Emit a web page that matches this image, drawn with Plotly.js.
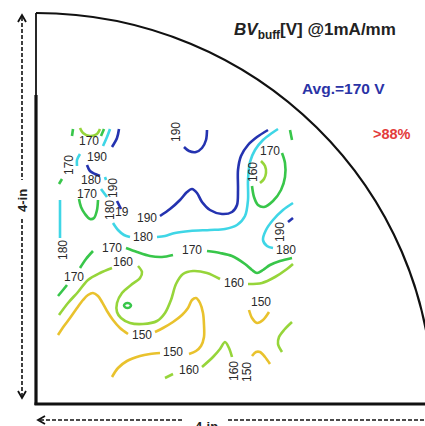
<!DOCTYPE html>
<html>
<head>
<meta charset="utf-8">
<script src="https://cdn.plot.ly/plotly-3.0.1.min.js"></script>
<style>html,body{margin:0;padding:0;background:#fff;}#chart{width:425px;height:426px;}</style>
</head>
<body>
<div id="chart"></div>
<script>
// Wafer quarter coordinates (in), origin at wafer-edge corner
const waferRadiusX = 3.97;
const waferRadiusY = 3.91;

const contourLevel = [190,190,190,190,190,190,
                      180,180,180,180,180,180,180,180,
                      170,170,170,170,170,170,170,170,
                      160,160,160,160,160,
                      150,150,150];
const contourX = [
  [0.83,0.81,0.76],
  [0.51,0.54,0.59,0.64],
  [0.81,0.83,0.85],
  [1.24,1.34,1.44,1.51,1.56,1.61,1.66,1.74,1.86,1.96,2.01,2.02,2.02,2.05,2.12,2.21,2.32],
  [1.71,1.70,1.66,1.60,1.53,1.48],
  [2.52,2.57],
  [0.74,0.71,0.67],
  [0.44,0.41,0.41],
  [0.69,0.70],
  [0.65,0.68,0.71],
  [0.77,0.82,0.88,0.94],
  [1.21,1.29,1.39,1.54,1.74,1.89,2.01,2.09,2.12,2.12,2.14,2.19,2.27,2.36,2.42],
  [2.57,2.47,2.37,2.30,2.27,2.31,2.37],
  [0.24,0.24,0.24],
  [0.37,0.36],
  [0.68,0.65],
  [0.26,0.23],
  [0.43,0.45,0.49,0.54,0.58,0.61,0.62],
  [0.22,0.27,0.31],
  [0.44,0.50,0.57],
  [0.90,1.01,1.14,1.26,1.37],
  [1.71,1.84,1.96,2.09,2.16,2.21,2.27,2.34,2.44,2.56],
  [0.44,0.47,0.54,0.61,0.64],
  [2.25,2.29,2.30,2.28,2.24],
  [0.23,0.32,0.42,0.52,0.64,0.76],
  [1.02,1.06,1.04,0.95,0.86,0.81,0.81,0.85,0.94,1.07,1.21,1.29,1.35,1.40,1.47,1.57,1.71,1.84],
  [2.12,2.26,2.39,2.51,2.57],
  [0.22,0.28,0.34,0.41,0.47,0.52,0.57,0.62,0.66,0.71,0.77,0.84,0.92],
  [1.19,1.27,1.37,1.46,1.52,1.56,1.60,1.64,1.67,1.68,1.68,1.65,1.60,1.53],
  [1.24,1.14,1.04,0.91,0.82,0.76]
];
const contourY = [
  [2.75,2.66,2.57],
  [2.39,2.33,2.30,2.28],
  [2.03,1.99,1.95],
  [1.88,1.95,2.04,2.12,2.15,2.11,2.02,1.94,1.90,1.92,1.99,2.14,2.34,2.48,2.59,2.67,2.74],
  [2.74,2.64,2.56,2.52,2.53,2.57],
  [1.82,1.86],
  [2.75,2.67,2.58],
  [2.50,2.44,2.38],
  [2.27,2.24],
  [2.15,2.11,2.07],
  [1.81,1.74,1.69,1.67],
  [1.67,1.68,1.71,1.73,1.74,1.75,1.79,1.88,2.04,2.24,2.42,2.54,2.64,2.71,2.75],
  [2.01,1.94,1.84,1.74,1.64,1.58,1.56],
  [2.04,1.84,1.66],
  [2.75,2.68],
  [2.75,2.68],
  [2.25,2.20],
  [2.05,1.97,1.90,1.85,1.86,1.94,2.04],
  [1.08,1.14,1.19],
  [1.36,1.45,1.53],
  [1.56,1.52,1.48,1.47,1.49],
  [1.53,1.51,1.48,1.40,1.34,1.31,1.34,1.39,1.43,1.46],
  [2.76,2.71,2.68,2.70,2.75],
  [2.43,2.38,2.31,2.25,2.21],
  [0.89,1.01,1.12,1.24,1.31,1.36],
  [1.38,1.32,1.26,1.19,1.11,1.01,0.92,0.86,0.81,0.80,0.83,0.91,1.04,1.20,1.30,1.33,1.31,1.25],
  [1.20,1.21,1.27,1.35,1.40],
  [0.69,0.78,0.86,0.96,1.04,1.09,1.11,1.08,1.02,0.93,0.84,0.76,0.70],
  [0.72,0.76,0.82,0.89,0.96,1.04,1.06,1.01,0.91,0.79,0.67,0.58,0.53,0.50],
  [0.51,0.50,0.48,0.43,0.36,0.27]
];
// extra short contour pieces
const extraLevel = [170,170,160,160,160,150,150,170];
const extraX = [
  [2.46,2.49,2.49,2.45,2.37,2.28,2.22,2.18,2.16],
  [2.54,2.56],
  [1.29,1.37],
  [1.66,1.77,1.84,1.89,1.93,1.96],
  [2.56,2.48,2.43,2.42,2.46],
  [2.13,2.16,2.21,2.27,2.33],
  [2.16,2.20,2.24,2.29,2.34],
  [0.88,0.895,0.915,0.935,0.95,0.935,0.915,0.895,0.88]
];
const extraY = [
  [2.51,2.41,2.27,2.14,2.03,1.97,1.99,2.07,2.18],
  [2.74,2.64],
  [0.26,0.30],
  [0.37,0.47,0.55,0.62,0.56,0.47],
  [0.82,0.74,0.67,0.60,0.52],
  [0.94,0.86,0.81,0.84,0.92],
  [0.48,0.52,0.52,0.47,0.40],
  [0.985,1.005,1.01,1.005,0.985,0.965,0.96,0.965,0.985]
];

// Contour labels
const labelText = ["170","190","170","180","170","190","19","190","180","190","180","180",
                   "170","170","170","160","160","150","150","150","160","160","150",
                   "170","160","190","180"];
const labelX = [0.53,0.61,0.33,0.55,0.51,0.77,0.86,1.11,0.74,1.40,1.07,0.27,
                0.38,0.76,1.56,0.87,1.98,1.06,1.37,2.25,1.53,1.98,2.11,
                2.34,2.17,2.44,2.50];
const labelY = [2.63,2.47,2.39,2.245,2.105,2.16,1.92,1.86,1.94,2.72,1.67,1.54,
                1.27,1.56,1.54,1.42,1.21,0.69,0.52,1.02,0.34,0.33,0.32,
                2.53,2.32,1.72,1.54];
const labelAngle = [0,0,-90,0,0,-90,0,0,-90,-90,0,-90,
                    0,0,0,0,0,0,0,0,0,-90,-90,
                    0,-90,-90,0];

const levelColor = {190:"#2433b0",180:"#3fd6e6",170:"#38c64a",160:"#96d53a",150:"#e9c22d"};

const traces = [];
function addLines(levels, xs, ys){
  for(let i=0;i<levels.length;i++){
    traces.push({type:"scatter",mode:"lines",x:xs[i],y:ys[i],
      line:{color:levelColor[levels[i]],width:2.6,shape:"spline",smoothing:0.9},
      hoverinfo:"skip",showlegend:false});
  }
}
addLines(contourLevel, contourX, contourY);
addLines(extraLevel, extraX, extraY);

const annotations = [];
for(let i=0;i<labelText.length;i++){
  annotations.push({x:labelX[i],y:labelY[i],xref:"x",yref:"y",text:labelText[i],
    showarrow:false,textangle:labelAngle[i],xanchor:"center",yanchor:"middle",
    font:{family:"Arial, Liberation Sans, sans-serif",size:12,color:"#2a2a2a"}});
}
annotations.push({x:2.79,y:3.73,xref:"x",yref:"y",showarrow:false,
  text:"<b><i>BV</i><sub>buff</sub>[V] @1mA/mm</b>",
  font:{family:"Arial, Liberation Sans, sans-serif",size:17,color:"#222"}});
annotations.push({x:3.07,y:3.16,xref:"x",yref:"y",showarrow:false,
  text:"<b>Avg.=170 V</b>",font:{family:"Arial, Liberation Sans, sans-serif",size:15.5,color:"#2a33a6"}});
annotations.push({x:3.56,y:2.70,xref:"x",yref:"y",showarrow:false,
  text:"<b>&gt;88%</b>",font:{family:"Arial, Liberation Sans, sans-serif",size:14.5,color:"#e33b3b"}});
annotations.push({x:-0.14,y:2.03,xref:"x",yref:"y",showarrow:false,textangle:-90,
  text:"<b>4-in</b>",font:{family:"Arial, Liberation Sans, sans-serif",size:13,color:"#222"}});
annotations.push({x:1.70,y:-0.13,xref:"x",yref:"y",showarrow:false,yanchor:"top",
  text:"<b>4-in</b>",font:{family:"Arial, Liberation Sans, sans-serif",size:13,color:"#222"}});

const k = 0.5523;
const rx = waferRadiusX, ry = waferRadiusY;
const shapes = [
  {type:"path",xref:"x",yref:"y",
   path:`M 0,${ry} C ${k*rx},${ry} ${rx},${k*ry} ${rx},0`,
   line:{color:"#111",width:2.2}},
  {type:"line",xref:"x",yref:"y",x0:0,y0:ry,x1:0,y1:3.09,line:{color:"#111",width:1.8}},
  {type:"line",xref:"x",yref:"y",x0:0,y0:3.09,x1:0,y1:-0.01,line:{color:"#111",width:3.2}},
  {type:"line",xref:"x",yref:"y",x0:-0.015,y0:0,x1:3.95,y1:0,line:{color:"#111",width:3.2}},
  // dashed dimension arrows
  {type:"line",xref:"x",yref:"y",x0:-0.14,y0:3.87,x1:-0.14,y1:2.24,line:{color:"#111",width:1.6,dash:"4px,2px"}},
  {type:"line",xref:"x",yref:"y",x0:-0.14,y0:1.85,x1:-0.14,y1:0.08,line:{color:"#111",width:1.6,dash:"4px,2px"}},
  {type:"path",xref:"x",yref:"y",path:"M -0.18,3.82 L -0.14,3.89 L -0.10,3.82",line:{color:"#111",width:1.8}},
  {type:"path",xref:"x",yref:"y",path:"M -0.18,0.13 L -0.14,0.06 L -0.10,0.13",line:{color:"#111",width:1.8}},
  {type:"line",xref:"x",yref:"y",x0:0.04,y0:-0.16,x1:1.48,y1:-0.16,line:{color:"#111",width:1.6,dash:"4px,2px"}},
  {type:"line",xref:"x",yref:"y",x0:1.92,y0:-0.16,x1:3.95,y1:-0.16,line:{color:"#111",width:1.6,dash:"4px,2px"}},
  {type:"path",xref:"x",yref:"y",path:"M 0.09,-0.12 L 0.02,-0.16 L 0.09,-0.20",line:{color:"#111",width:1.8}}
];

const layout = {
  width:425,height:426,autosize:false,
  margin:{l:0,r:0,t:0,b:0,pad:0},
  paper_bgcolor:"#fff",plot_bgcolor:"#fff",
  xaxis:{range:[-0.36,3.89],visible:false,fixedrange:true},
  yaxis:{range:[-0.22,4.04],visible:false,fixedrange:true},
  showlegend:false,
  annotations:annotations,
  shapes:shapes
};
Plotly.newPlot("chart",traces,layout,{displayModeBar:false,staticPlot:true});
</script>
</body>
</html>
